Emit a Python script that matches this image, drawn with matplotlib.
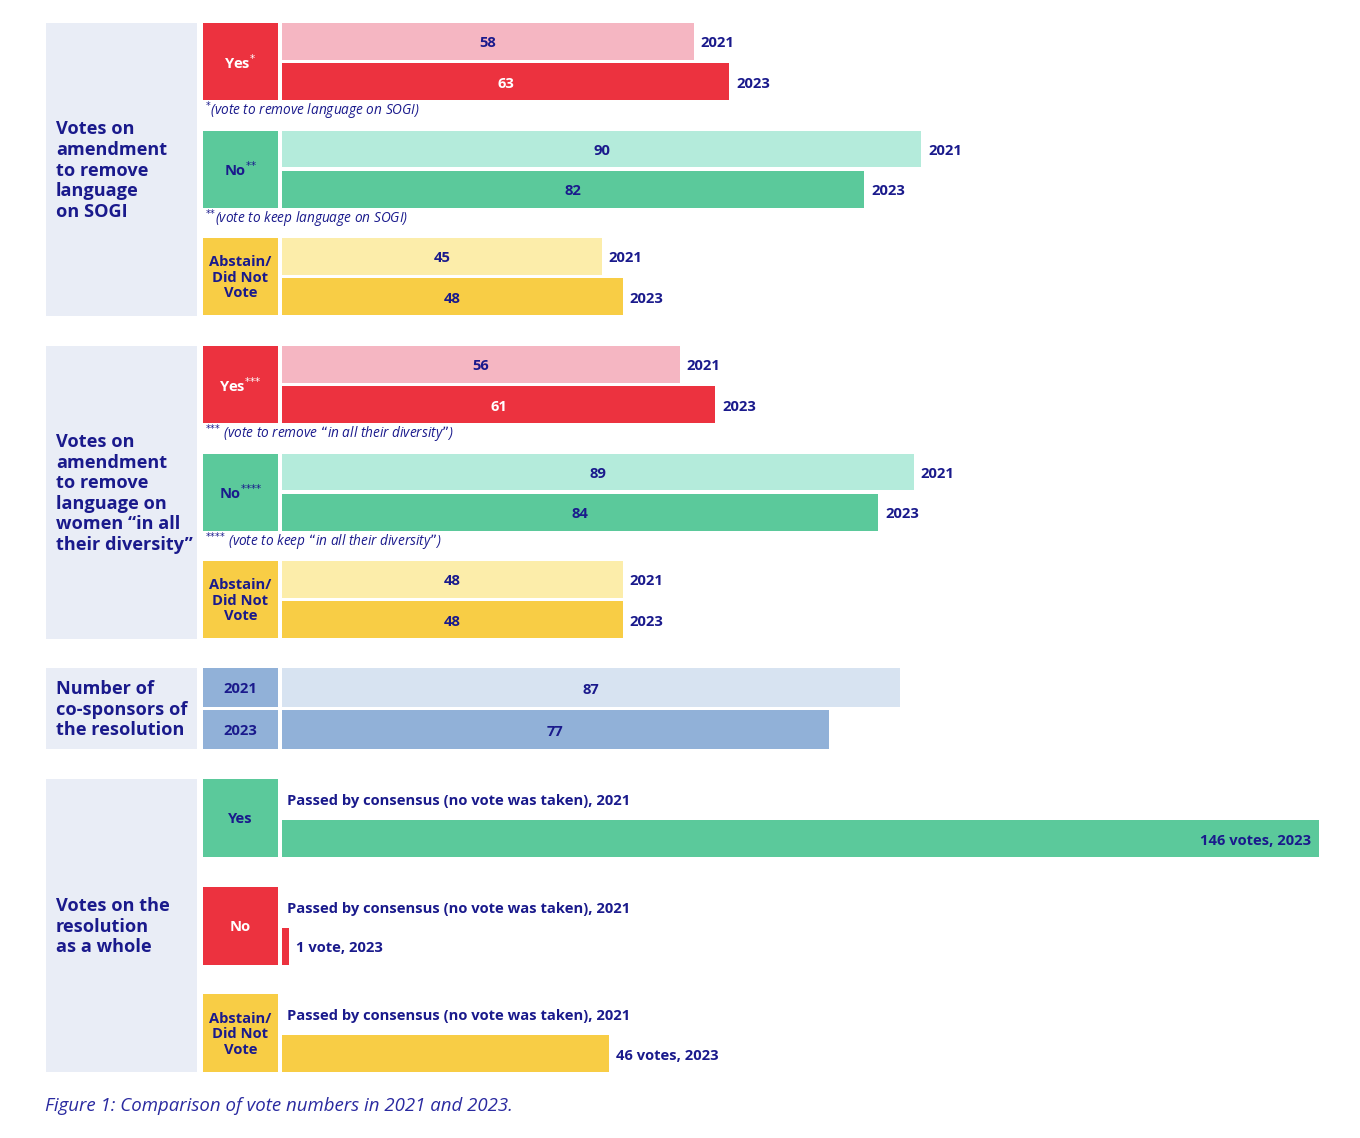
import matplotlib
matplotlib.use("Agg")
import matplotlib.pyplot as plt

plt.rcParams['font.family'] = ['Open Sans', 'DejaVu Sans']
plt.rcParams['mathtext.fontset'] = 'dejavusans'

# data
sogi_labels = ["Yes$^{*}$", "No$^{{*}{*}}$", "Abstain/\nDid Not\nVote"]
sogi_2021 = [58, 90, 45]
sogi_2023 = [63, 82, 48]
sogi_notes = ["$^{*}$(vote to remove language on SOGI)",
              "$^{{*}{*}}$(vote to keep language on SOGI)"]

div_labels = ["Yes$^{{*}{*}{*}}$", "No$^{{*}{*}{*}{*}}$", "Abstain/\nDid Not\nVote"]
div_2021 = [56, 89, 48]
div_2023 = [61, 84, 48]
div_notes = ["$^{{*}{*}{*}}$ (vote to remove \u201cin all their diversity\u201d)",
             "$^{{*}{*}{*}{*}}$ (vote to keep \u201cin all their diversity\u201d)"]

cosp_years = ["2021", "2023"]
cosponsors = [87, 77]

whole_labels = ["Yes", "No", "Abstain/\nDid Not\nVote"]
whole_2023 = [146, 1, 46]
whole_2021_note = "Passed by consensus (no vote was taken), 2021"

titles = ["Votes on\namendment\nto remove\nlanguage\non SOGI",
          "Votes on\namendment\nto remove\nlanguage on\nwomen \u201cin all\ntheir diversity\u201d",
          "Number of\nco-sponsors of\nthe resolution",
          "Votes on the\nresolution\nas a whole"]
caption = "Figure 1: Comparison of vote numbers in 2021 and 2023."

# colours
navy = "#1A1A8C"
red, pink = "#EC323F", "#F5B6C2"
green, mint = "#5BC99B", "#B4EBDB"
yellow, pale_yellow = "#F8CD45", "#FCEDAA"
blue, pale_blue = "#91B1D8", "#D7E3F1"
panel_bg = "#E9EDF6"
dark = [red, green, yellow]
light = [pink, mint, pale_yellow]
whole_colors = [green, red, yellow]

# layout (pixels)
W, H = 1360, 1138
PX = 7.1          # pixels per vote
X0 = 282          # bar origin column
STEP = 107.6      # distance between blocks
FS = 10.6         # bar text size


def dx(p):
    return (p - X0) / PX


fig = plt.figure(figsize=(W / 100, H / 100), dpi=100)
ax = fig.add_axes([0, 0, 1, 1])
ax.set_xlim(dx(0), dx(W))
ax.set_ylim(H, 0)
ax.axis("off")


def panel(top, bottom, title):
    ax.barh((top + bottom) / 2, dx(197) - dx(46), height=bottom - top,
            left=dx(46), color=panel_bg)
    ax.text(dx(56), (top + bottom) / 2 + 1, title, ha="left", va="center",
            fontsize=13.1, fontweight="bold", color=navy, linespacing=1.19)


def box(top, bottom, label, color, tcolor=navy):
    ax.barh((top + bottom) / 2, dx(278) - dx(203), height=bottom - top,
            left=dx(203), color=color)
    ax.text(dx(240.5), (top + bottom) / 2 + 1, label, ha="center", va="center",
            fontsize=FS, fontweight="bold", color=tcolor, linespacing=1.15)


def bar(top, bottom, value, color, label, tcolor=navy, year=None):
    yc = (top + bottom) / 2
    ax.barh(yc, value, height=bottom - top, left=0, color=color)
    if label is not None:
        ax.text(value / 2, yc + 2, label, ha="center", va="center",
                fontsize=FS, fontweight="bold", color=tcolor)
    if year is not None:
        ax.text(value + 7 / PX, yc + 2, year, ha="left", va="center",
                fontsize=FS, fontweight="bold", color=navy)


def vote_group(top, labels, v21, v23, notes, title):
    panel(top, top + 293, title)
    for i in range(3):
        t = top + i * STEP
        tc = "white" if dark[i] == red else navy
        box(t, t + 77, labels[i], dark[i], tc)
        bar(t, t + 36.5, v21[i], light[i], str(v21[i]), year="2021")
        bar(t + 40, t + 77, v23[i], dark[i], str(v23[i]), tc, year="2023")
        if i < len(notes):
            ax.text(dx(205), t + 88, notes[i], ha="left", va="center",
                    fontsize=9.8, style="italic", color=navy)


vote_group(23, sogi_labels, sogi_2021, sogi_2023, sogi_notes, titles[0])
vote_group(346, div_labels, div_2021, div_2023, div_notes, titles[1])

# co-sponsors
top = 668
panel(top, top + 81, titles[2])
for i in range(2):
    t = top + i * 42
    box(t, t + 39, cosp_years[i], blue)
    bar(t, t + 39, cosponsors[i], [pale_blue, blue][i], str(cosponsors[i]))

# resolution as a whole
top = 779
panel(top, top + 293, titles[3])
for i in range(3):
    t = top + i * STEP
    c = whole_colors[i]
    tc = "white" if c == red else navy
    box(t, t + 78, whole_labels[i], c, tc)
    ax.text(dx(287), t + 22, whole_2021_note, ha="left", va="center",
            fontsize=FS, fontweight="bold", color=navy)
    v = whole_2023[i]
    lab = f"{v} vote{'s' if v != 1 else ''}, 2023"
    yc = t + 41 + 37 / 2
    ax.barh(yc, v, height=37, left=0, color=c)
    if v > 100:
        ax.text(v - 7 / PX, yc + 2, lab, ha="right", va="center",
                fontsize=FS, fontweight="bold", color=navy)
    else:
        ax.text(v + 7 / PX, yc + 2, lab, ha="left", va="center",
                fontsize=FS, fontweight="bold", color=navy)

ax.text(dx(45), 1106, caption, ha="left", va="center", fontsize=13.4,
        style="italic", color="#2A2AA0")

fig.savefig("out.png", dpi=100)
